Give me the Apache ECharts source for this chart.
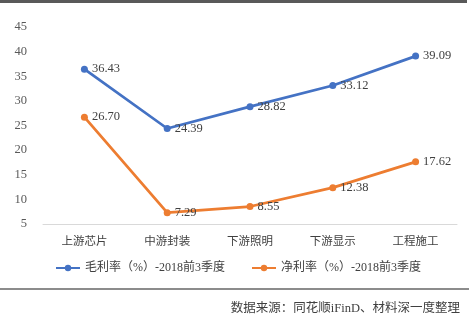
<!DOCTYPE html>
<html>
<head>
<meta charset="utf-8">
<style>
  html, body { margin: 0; padding: 0; background: #fff; }
  #chart { width: 476px; height: 324px; }
</style>
<script src="https://cdn.jsdelivr.net/npm/echarts@6/dist/echarts.min.js"></script>
</head>
<body>
<div id="chart"></div>
<script>
// Margin data by segment of the LED industry chain
const categories = ['上游芯片', '中游封装', '下游照明', '下游显示', '工程施工'];
const grossMargin = [36.43, 24.39, 28.82, 33.12, 39.09];
const netMargin = [26.70, 7.29, 8.55, 12.38, 17.62];
const seriesNames = ['毛利率（%）-2018前3季度', '净利率（%）-2018前3季度'];
const sourceNote = '数据来源：同花顺iFinD、材料深一度整理';

const FONT = '"Liberation Serif", "Noto Sans CJK SC", serif';
const BLUE = '#4472C4';
const ORANGE = '#ED7D31';

const chart = echarts.init(document.getElementById('chart'), null, { renderer: 'canvas' });

function lineSeries(name, data, color) {
  return {
    name: name,
    type: 'line',
    data: data,
    symbol: 'circle',
    symbolSize: 7,
    lineStyle: { width: 2.75, color: color },
    itemStyle: { color: color },
    label: {
      show: true,
      position: 'right',
      distance: 4,
      color: '#404040',
      fontFamily: FONT,
      fontSize: 12.5,
      formatter: p => p.value.toFixed(2)
    }
  };
}

chart.setOption({
  animation: false,
  backgroundColor: '#fff',
  grid: { left: 43, right: 19, top: 27, bottom: 100 },
  xAxis: {
    type: 'category',
    data: categories,
    boundaryGap: true,
    axisLine: { lineStyle: { color: '#d9d9d9', width: 1 } },
    axisTick: { show: false },
    axisLabel: { color: '#404040', fontFamily: FONT, fontSize: 11.5, margin: 12 }
  },
  yAxis: {
    type: 'value',
    min: 5,
    max: 45,
    interval: 5,
    axisLine: { show: false },
    axisTick: { show: false },
    splitLine: { show: false },
    axisLabel: { color: '#595959', fontFamily: FONT, fontSize: 12.5, margin: 16 }
  },
  legend: {
    top: 257,
    left: 'center',
    itemGap: 26,
    itemWidth: 24,
    itemHeight: 8,
    textStyle: { color: '#404040', fontFamily: FONT, fontSize: 12 },
    data: seriesNames
  },
  series: [
    lineSeries(seriesNames[0], grossMargin, BLUE),
    lineSeries(seriesNames[1], netMargin, ORANGE)
  ],
  graphic: [
    { type: 'rect', shape: { x: 0, y: 0, width: 467, height: 3 }, style: { fill: '#595959' } },
    { type: 'rect', shape: { x: 0, y: 288, width: 469, height: 2 }, style: { fill: '#8c8c8c' } },
    {
      type: 'text', right: 16, top: 302,
      style: { text: sourceNote, fill: '#404040', font: '12.5px ' + FONT }
    }
  ]
});
</script>
</body>
</html>
